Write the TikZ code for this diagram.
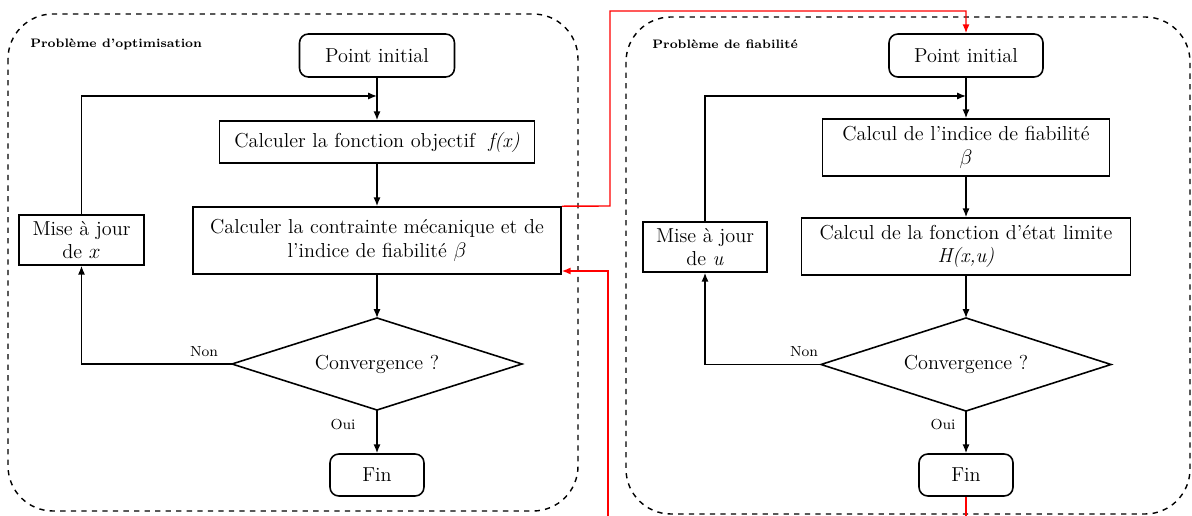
\documentclass[tikz,border=0pt]{standalone}
\usetikzlibrary{arrows.meta}
\begin{document}
\begin{tikzpicture}[x=0.02cm,y=-0.02cm,
  font=\fontsize{11.5}{13.5}\selectfont,
  box/.style={draw,line width=0.9pt,inner sep=0pt,align=center},
  rbox/.style={box,rounded corners=5pt},
  dtext/.style={inner sep=0pt},
  dshape/.style={line width=0.9pt},
  panel/.style={draw,dashed,line width=0.8pt,rounded corners=0.9cm},
  arr/.style={line width=0.8pt,-{Latex[length=5pt,width=4pt]}},
  ln/.style={line width=0.8pt},
  red arr/.style={arr,red},
  ptitle/.style={font=\fontsize{7}{9}\selectfont\bfseries,anchor=west,inner sep=0pt},
  lab/.style={font=\fontsize{8.3}{9}\selectfont,inner sep=0pt}]
\useasboundingbox (0,0) rectangle (1192,516);
% panels
\draw[panel] (8,14) rectangle (578,511);
\draw[panel] (626,17) rectangle (1190,514);
\node[ptitle] (t1) at (30,44) {Problème d'optimisation};
\node[ptitle] (t2) at (652,44) {Problème de fiabilité};
% left flow
\node[rbox,minimum width=3.1cm,minimum height=0.86cm] (PI1) at (377,55.5) {Point initial};
\node[box,minimum width=6.3cm,minimum height=0.84cm] (F1) at (377,142) {Calculer la fonction objectif \ \textit{f(x)}};
\node[box,minimum width=7.36cm,minimum height=1.34cm] (C1) at (377,240.5) {Calculer la contrainte mécanique et de\\ l'indice de fiabilité $\beta$};
\node[box,minimum width=2.5cm,minimum height=1.0cm] (M1) at (81.5,240) {Mise à jour\\ de $x$};
\node[dtext] (D1) at (377,364) {Convergence ?};
\coordinate (D1n) at (377,318);
\coordinate (D1s) at (377,410);
\coordinate (D1w) at (232,364);
\coordinate (D1e) at (522,364);
\draw[dshape] (D1n) -- (D1e) -- (D1s) -- (D1w) -- cycle;
\node[rbox,minimum width=1.88cm,minimum height=0.84cm] (E1) at (377,475) {Fin};
\coordinate (j1) at (377,96);
\draw[arr] (PI1) -- (F1);
\draw[arr] (M1.north) |- (j1);
\draw[arr] (F1) -- (C1);
\draw[arr] (C1) -- (D1n);
\draw[arr] (D1w) -| (M1.south);
\draw[arr] (D1s) -- (E1.north);
\node[lab] (n1) at (204,352) {Non};
\node[lab] (o1) at (343,425) {Oui};
% right flow
\node[rbox,minimum width=3.08cm,minimum height=0.86cm] (PI2) at (966,55.5) {Point initial};
\node[box,minimum width=5.74cm,minimum height=1.14cm] (B2) at (966,147.5) {Calcul de l'indice de fiabilité\\ $\beta$};
\node[box,minimum width=6.58cm,minimum height=1.14cm] (H2) at (966,246.5) {Calcul de la fonction d'état limite\\ \textit{H(x,u)}};
\node[box,minimum width=2.48cm,minimum height=1.0cm] (M2) at (705,247) {Mise à jour\\ de \textit{u}};
\node[dtext] (D2) at (966,364.5) {Convergence ?};
\coordinate (D2n) at (966,318);
\coordinate (D2s) at (966,411);
\coordinate (D2w) at (821,364.5);
\coordinate (D2e) at (1111,364.5);
\draw[dshape] (D2n) -- (D2e) -- (D2s) -- (D2w) -- cycle;
\node[rbox,minimum width=1.88cm,minimum height=0.84cm] (E2) at (966,475) {Fin};
\coordinate (j2) at (966,96);
\draw[arr] (PI2) -- (B2);
\draw[arr] (M2.north) |- (j2);
\draw[arr] (B2) -- (H2);
\draw[arr] (H2) -- (D2n);
\draw[arr] (D2w) -| (M2.south);
\draw[arr] (D2s) -- (E2.north);
\node[lab] (n2) at (804,352) {Non};
\node[lab] (o2) at (943,425) {Oui};
% red links
\coordinate (r1) at (610,206);
\coordinate (r2) at (610,11);
\draw[red arr] (C1.north east) -- (r1) -- (r2) -| (PI2.north);
\coordinate (rb1) at (966,516);
\coordinate (rb2) at (608,516);
\draw[ln,red] (E2.south) -- (rb1);
\draw[red arr] (rb2) |- (C1.east |- 0,271);
\end{tikzpicture}
\end{document}
